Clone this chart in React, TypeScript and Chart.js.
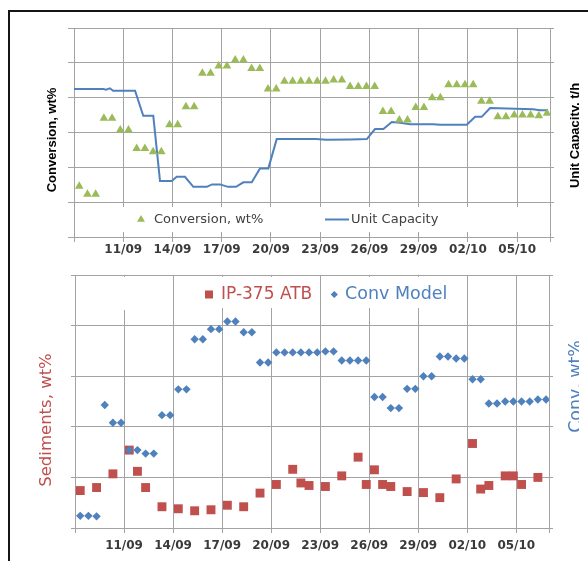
import React, { useEffect, useRef } from 'react';
import { Chart, registerables } from 'chart.js';

Chart.register(...registerables);

// ---------------- data ----------------
const dateLabels = ['11/09', '14/09', '17/09', '20/09', '23/09', '26/09', '29/09', '02/10', '05/10'];
const dateLabelDays = [3, 6, 9, 12, 15, 18, 21, 24, 27];
const axisFirstDay = 0; // 08/09
const axisLastDay = 29; // 07/10
const firstSampleDay = 0.32;
const sampleStepDays = 0.5;

// top chart: measured conversion (wt%), one sample every half day
const conversionWt = [
  44.6, 42.3, 42.3, 64.1, 64.1, 60.7, 60.7, 55.4, 55.4, 54.5,
  54.5, 62.2, 62.2, 67.4, 67.4, 77.0, 77.0, 79.1, 79.1, 80.8,
  80.8, 78.4, 78.4, 72.5, 72.5, 74.7, 74.7, 74.7, 74.7, 74.7,
  74.7, 75.1, 75.1, 73.2, 73.2, 73.2, 73.2, 66.0, 66.0, 63.6,
  63.6, 67.2, 67.2, 70.0, 70.0, 73.7, 73.7, 73.7, 73.7, 69.0,
  69.0, 64.5, 64.5, 65.0, 65.0, 65.0, 64.8, 65.5,
];

// top chart: unit capacity (t/h)
const capacityDays = [
  0, 1.79, 1.95, 2.19, 2.38, 3.72, 4.22, 4.83, 5.24, 5.95,
  6.26, 6.76, 7.27, 8.09, 8.41, 8.9, 9.38, 9.87, 10.32, 10.83,
  11.33, 11.84, 12.35, 14.75, 15.36, 16.82, 17.84, 18.34, 18.85, 19.36,
  19.87, 20.48, 21.88, 22.3, 23.93, 24.44, 24.84, 25.35, 27.97, 28.4, 28.88,
];
const capacityTph = [
  212.5, 212.5, 211.5, 213.5, 210, 210, 174, 174, 80.5, 80.5,
  86.5, 86.5, 72, 72, 75.5, 75.5, 72, 72, 78.5, 78.5,
  98.5, 98.5, 140.5, 140.5, 139.5, 140, 140.5, 155, 155, 165,
  164, 162, 162, 161, 161, 172.5, 172.5, 185, 183.5, 182, 182,
];

// bottom chart: model conversion (wt%)
const convModel = [
  42.4, 42.4, 42.3, 64.3, 60.8, 60.8, 55.4, 55.4, 54.7, 54.7,
  62.3, 62.3, 67.4, 67.4, 77.3, 77.3, 79.3, 79.3, 80.8, 80.8,
  78.7, 78.7, 72.7, 72.7, 74.7, 74.7, 74.7, 74.7, 74.7, 74.7,
  74.9, 74.9, 73.1, 73.1, 73.1, 73.1, 65.9, 65.9, 63.7, 63.7,
  67.5, 67.5, 70.0, 70.0, 73.9, 73.9, 73.5, 73.5, 69.4, 69.4,
  64.6, 64.6, 65.0, 65.0, 65.0, 65.0, 65.4, 65.4,
];

// bottom chart: sediments in IP-375 ATB (wt%)
const sedimentsWt: (number | null)[] = [
  0.074, null, 0.080, null, 0.107, null, 0.154, 0.112, 0.080, null,
  0.042, null, 0.038, null, 0.034, null, 0.036, null, 0.045, null,
  0.042, null, 0.069, null, 0.086, null, 0.116, 0.089, 0.084, null,
  0.082, null, 0.103, null, 0.140, 0.086, 0.115, 0.086, 0.082, null,
  0.072, null, 0.070, null, 0.060, null, 0.097, null, 0.167, 0.077,
  0.084, null, 0.103, 0.103, 0.086, null, 0.100, null,
];

const conversionTitle = 'Conversion, wt%';
const capacityTitle = 'Unit Capacity, t/h';
const capacityLegend = 'Unit Capacity';
const sedimentsTitle = 'Sediments, wt%';
const convTitle = 'Conv, wt%';
const sedimentsLegend = 'IP-375 ATB';
const convModelLegend = 'Conv Model';

// ---------------- styles ----------------
const GRID = '#a3a3a3';
const GREEN = '#9BBB59';
const BLUE = '#4F81BD';
const RED = '#C0504D';
const TICK = '#3a3a3a';

const sampleDay = (i: number) => firstSampleDay + i * sampleStepDays;
const toPoints = (vals: (number | null)[]) =>
  vals.map((v, i) => ({ x: sampleDay(i), y: v })).filter((p) => p.y !== null);

function xScale(height: number, padding: number) {
  return {
    type: 'linear',
    min: axisFirstDay,
    max: axisLastDay,
    afterBuildTicks: (s: any) => {
      s.ticks = [axisFirstDay, ...dateLabelDays, axisLastDay].map((v) => ({ value: v }));
    },
    afterFit: (s: any) => {
      s.height = height;
    },
    grid: { color: GRID, lineWidth: 1, tickLength: 5 },
    border: { color: GRID, width: 1 },
    ticks: {
      autoSkip: false,
      maxRotation: 0,
      minRotation: 0,
      padding,
      color: TICK,
      font: { family: 'DejaVu Sans', size: 12, weight: 'bold' },
      callback: (v: any) => {
        const i = dateLabelDays.indexOf(Number(v));
        return i >= 0 ? dateLabels[i] : '';
      },
    },
  };
}

function yScale(min: number, max: number, step: number, position: string, tick: number, onArea: boolean) {
  return {
    type: 'linear',
    position,
    min,
    max,
    afterFit: (s: any) => {
      s.width = tick;
    },
    grid: { color: GRID, lineWidth: 1, tickLength: tick, drawOnChartArea: onArea },
    border: { color: GRID, width: 1 },
    ticks: { display: false, stepSize: step },
  };
}

function rotatedText(ctx: CanvasRenderingContext2D, text: string, x: number, y: number, font: string, color: string, clipRight?: number) {
  ctx.save();
  if (clipRight) {
    ctx.beginPath();
    ctx.rect(0, 0, clipRight, ctx.canvas.height);
    ctx.clip();
  }
  ctx.translate(x, y);
  ctx.rotate(-Math.PI / 2);
  ctx.font = font;
  ctx.fillStyle = color;
  ctx.textAlign = 'center';
  ctx.textBaseline = 'alphabetic';
  ctx.fillText(text, 0, 0);
  ctx.restore();
}

function legendText(ctx: CanvasRenderingContext2D, text: string, x: number, y: number, font: string, color: string) {
  ctx.font = font;
  ctx.fillStyle = color;
  ctx.textAlign = 'left';
  ctx.textBaseline = 'middle';
  ctx.fillText(text, x, y);
}

const topDecor = {
  id: 'topDecor',
  beforeDatasetsDraw(chart: any) {
    const { ctx, chartArea: a } = chart;
    ctx.save();
    ctx.fillStyle = '#ffffff';
    ctx.fillRect(a.left + 3, 207, a.right - a.left - 6, 25);
    // legend: triangle
    const tx = 141, ty = 219.5, r = 4.6;
    ctx.beginPath();
    ctx.moveTo(tx, ty - r);
    ctx.lineTo(tx + r * 0.866, ty + r * 0.5);
    ctx.lineTo(tx - r * 0.866, ty + r * 0.5);
    ctx.closePath();
    ctx.fillStyle = GREEN;
    ctx.fill();
    legendText(ctx, conversionTitle, 154, 219.5, "13px 'DejaVu Sans'", '#404040');
    ctx.beginPath();
    ctx.moveTo(325, 219.5);
    ctx.lineTo(349, 219.5);
    ctx.strokeStyle = BLUE;
    ctx.lineWidth = 2;
    ctx.stroke();
    legendText(ctx, capacityLegend, 351, 219.5, "13px 'DejaVu Sans'", '#404040');
    rotatedText(ctx, conversionTitle, 56, 140, "bold 13px 'Liberation Sans'", '#000000');
    rotatedText(ctx, capacityTitle, 579, 135.5, "bold 13px 'Liberation Sans'", '#000000', 579);
    ctx.restore();
  },
};

const bottomDecor = {
  id: 'bottomDecor',
  beforeDatasetsDraw(chart: any) {
    const { ctx } = chart;
    ctx.save();
    ctx.fillStyle = '#ffffff';
    ctx.fillRect(100, 19, 30, 33);
    ctx.fillRect(200, 19, 118, 31);
    ctx.fillRect(328, 19, 127, 31);
    // legend: square
    ctx.fillStyle = RED;
    ctx.fillRect(209 - 4, 36.5 - 4, 8, 8);
    legendText(ctx, sedimentsLegend, 221, 36.5, "17px 'DejaVu Sans'", RED);
    // legend: diamond
    const dx = 334.3, dy = 36.5, d = 3.6;
    ctx.beginPath();
    ctx.moveTo(dx, dy - d);
    ctx.lineTo(dx + d, dy);
    ctx.lineTo(dx, dy + d);
    ctx.lineTo(dx - d, dy);
    ctx.closePath();
    ctx.fillStyle = BLUE;
    ctx.fill();
    legendText(ctx, convModelLegend, 345, 36.5, "17.5px 'DejaVu Sans'", BLUE);
    rotatedText(ctx, sedimentsTitle, 51, 162, "16.5px 'DejaVu Sans'", RED);
    rotatedText(ctx, convTitle, 580.5, 128.5, "17.4px 'DejaVu Sans'", BLUE, 579);
    ctx.restore();
  },
};

function topConfig(): any {
  return {
    type: 'line',
    data: {
      datasets: [
        {
          label: conversionTitle,
          data: toPoints(conversionWt),
          showLine: false,
          pointStyle: 'triangle',
          pointRadius: 5,
          pointBackgroundColor: GREEN,
          pointBorderColor: GREEN,
          pointBorderWidth: 0,
          yAxisID: 'y',
        },
        {
          label: capacityLegend,
          data: capacityDays.map((d, i) => ({ x: d, y: capacityTph[i] })),
          borderColor: BLUE,
          borderWidth: 2,
          pointRadius: 0,
          tension: 0,
          fill: false,
          yAxisID: 'y1',
        },
      ],
    },
    options: {
      responsive: false,
      animation: false,
      devicePixelRatio: 1,
      events: [],
      layout: { padding: { left: 68, right: 34, top: 28, bottom: 0 } },
      plugins: { legend: { display: false }, tooltip: { enabled: false }, title: { display: false } },
      scales: {
        x: xScale(21, 1),
        y: yScale(30, 90, 10, 'left', 6, true),
        y1: yScale(0, 300, 50, 'right', 4, false),
      },
    },
    plugins: [topDecor],
  };
}

function bottomConfig(): any {
  return {
    type: 'line',
    data: {
      datasets: [
        {
          label: convModelLegend,
          data: toPoints(convModel),
          showLine: false,
          pointStyle: 'rectRot',
          pointRadius: 4.2,
          pointBackgroundColor: BLUE,
          pointBorderColor: BLUE,
          pointBorderWidth: 0,
          yAxisID: 'y1',
        },
        {
          label: sedimentsLegend,
          data: toPoints(sedimentsWt),
          showLine: false,
          pointStyle: 'rect',
          pointRadius: 6.3,
          pointBackgroundColor: RED,
          pointBorderColor: RED,
          pointBorderWidth: 0,
          yAxisID: 'y',
        },
      ],
    },
    options: {
      responsive: false,
      animation: false,
      devicePixelRatio: 1,
      events: [],
      layout: { padding: { left: 71, right: 35, top: 17, bottom: 0 } },
      plugins: { legend: { display: false }, tooltip: { enabled: false }, title: { display: false } },
      scales: {
        x: xScale(33, 6),
        y: yScale(0, 0.5, 0.1, 'left', 4, true),
        y1: yScale(40, 90, 10, 'right', 4, false),
      },
    },
    plugins: [bottomDecor],
  };
}

export default function App() {
  const topRef = useRef<HTMLCanvasElement>(null);
  const bottomRef = useRef<HTMLCanvasElement>(null);

  useEffect(() => {
    const c1 = new Chart(topRef.current as HTMLCanvasElement, topConfig());
    const c2 = new Chart(bottomRef.current as HTMLCanvasElement, bottomConfig());
    return () => {
      c1.destroy();
      c2.destroy();
    };
  }, []);

  return (
    <div style={{ position: 'absolute', left: 0, top: 0, width: 588, height: 561, background: '#ffffff', overflow: 'hidden' }}>
      <div
        style={{
          position: 'absolute',
          left: 8,
          top: 10,
          width: 700,
          height: 700,
          borderLeft: '2px solid #151515',
          borderTop: '2px solid #151515',
        }}
      />
      <canvas ref={topRef} width={588} height={258} style={{ position: 'absolute', left: 0, top: 0 }} />
      <canvas ref={bottomRef} width={588} height={303} style={{ position: 'absolute', left: 0, top: 258 }} />
    </div>
  );
}
